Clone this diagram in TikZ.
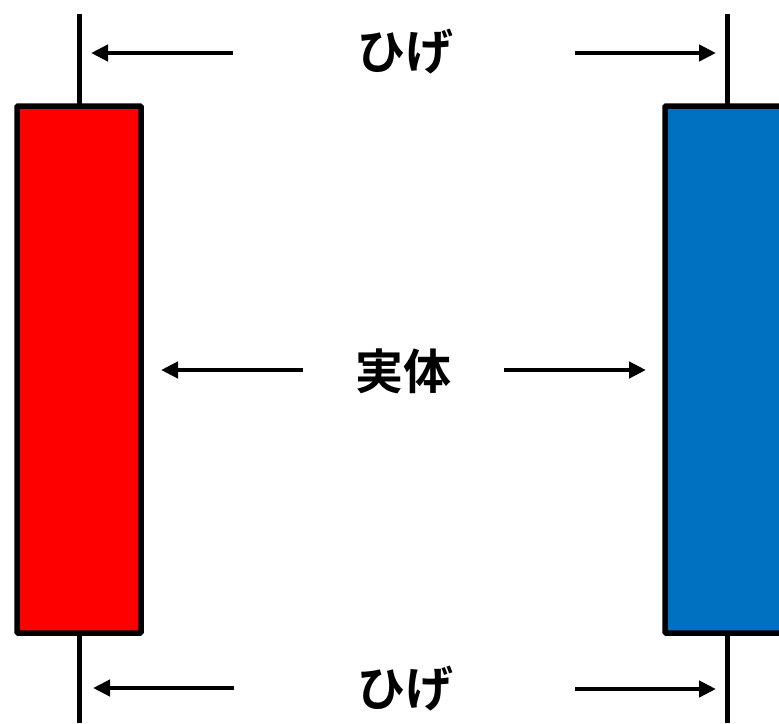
\documentclass[tikz,border=0pt]{standalone}
\usepackage{fontspec}
\newfontfamily\jpfont{Noto Sans CJK JP}[BoldFont={* Bold}]
\usetikzlibrary{arrows.meta}
\definecolor{candlered}{RGB}{255,0,0}
\definecolor{candleblue}{RGB}{0,112,192}
\begin{document}
\begin{tikzpicture}[x=1pt,y=-1pt,
  wick/.style={line width=5pt},
  body/.style={draw,line width=5.5pt,rounded corners=1pt,outer sep=0pt,inner sep=0pt,minimum width=124pt,minimum height=527pt},
  ptr/.style={line width=4.5pt,-{Triangle[length=17pt,width=16pt]}},
  lbl/.style={font=\jpfont\bfseries\fontsize{48}{52}\selectfont,inner sep=0pt}]
\useasboundingbox (0,0) rectangle (779,723);
% left candle
\coordinate (lwt) at (79,14);
\coordinate (lwb) at (79,723);
\draw[wick] (lwt) -- (lwb);
\node[body,fill=candlered] (red) at (79,369.5) {};
% right candle
\coordinate (rwt) at (727,14);
\coordinate (rwb) at (727,723);
\draw[wick] (rwt) -- (rwb);
\node[body,fill=candleblue] (blue) at (727,369.5) {};
% labels
\node[lbl] (top) at (405,52) {ひげ};
\node[lbl] (mid) at (403,371) {実体};
\node[lbl] (bot) at (405,689) {ひげ};
% arrow coordinates
\coordinate (t1) at (233,53); \coordinate (t1e) at (91,53);
\coordinate (t2) at (575,53); \coordinate (t2e) at (716,53);
\coordinate (m1) at (303,370); \coordinate (m1e) at (161,370);
\coordinate (m2) at (504,370); \coordinate (m2e) at (646,370);
\coordinate (b1) at (234,688); \coordinate (b1e) at (93,688);
\coordinate (b2) at (575,689); \coordinate (b2e) at (716,689);
\draw[ptr] (t1) -- (t1e);
\draw[ptr] (t2) -- (t2e);
\draw[ptr] (m1) -- (m1e);
\draw[ptr] (m2) -- (m2e);
\draw[ptr] (b1) -- (b1e);
\draw[ptr] (b2) -- (b2e);
\end{tikzpicture}
\end{document}
